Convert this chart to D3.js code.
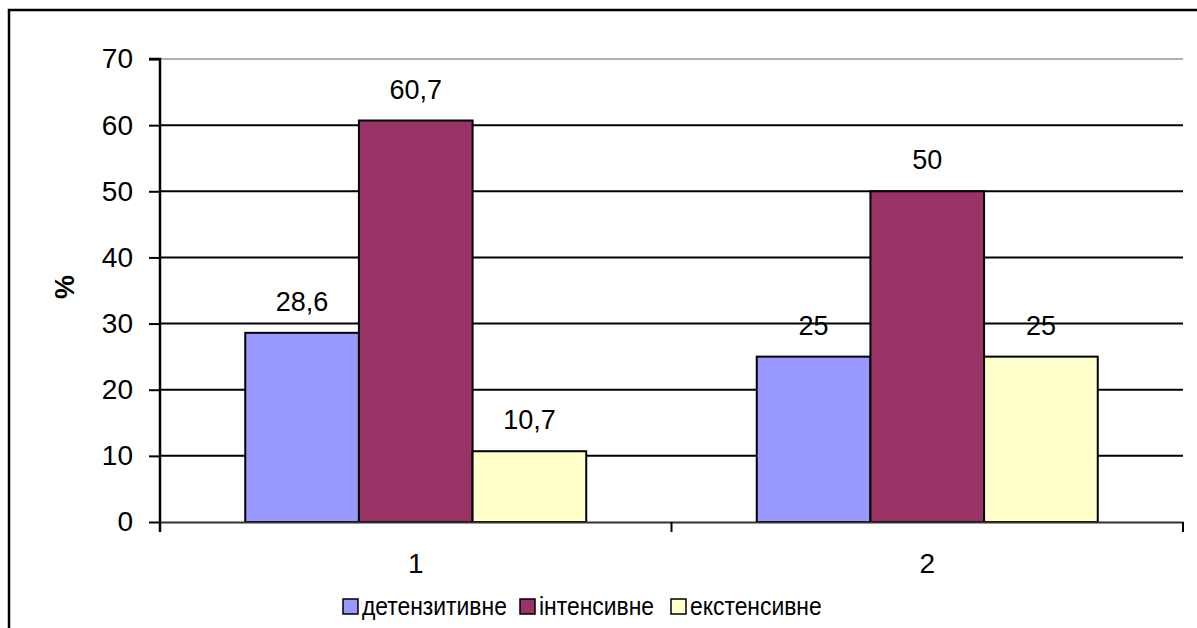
<!DOCTYPE html>
<html>
<head>
  <meta charset="utf-8">
<style type="text/css">
  body { margin: 0; background: #fff; }
  text { font-family: "Liberation Sans", Arial, sans-serif; }
</style>
</head>
<script src="https://cdn.jsdelivr.net/npm/d3@7"></script>
<body>

<script>
  var categories = ["1", "2"];
  var series = ["детензитивне", "інтенсивне", "екстенсивне"];
  var labels = [["28,6", "60,7", "10,7"], ["25", "50", "25"]];
  var values = [[28.6, 60.7, 10.7], [25, 50, 25]];
  var yTicks = [0, 10, 20, 30, 40, 50, 60, 70];
  var colors = ["#9999ff", "#993366", "#ffffcc"];

  var w = 1197, h = 628;
  var pLeft = 160, pRight = 1183, pTop = 59, pBottom = 522;

  var svg = d3.select("body").append("svg")
              .attr("width", w)
              .attr("height", h);

  // outer chart frame (cropped on right/bottom)
  svg.append("rect")
     .attr("x", 9).attr("y", 10)
     .attr("width", 1200).attr("height", 640)
     .attr("fill", "#fff").attr("stroke", "#000").attr("stroke-width", 2.5);

  var x = d3.scaleBand().domain(categories).range([pLeft, pRight]);
  var y = d3.scaleLinear().domain([0, 70]).range([pBottom, pTop]);

  var gap = x.bandwidth() * 0.75 / 4.5;
  var x1 = d3.scaleBand().domain(d3.range(series.length))
             .range([gap, x.bandwidth() - gap]);

  // gridlines
  svg.selectAll(".grid").data(yTicks.filter(function (d) { return d > 0; }))
     .enter().append("line")
     .attr("x1", pLeft).attr("x2", pRight)
     .attr("y1", function (d) { return y(d); })
     .attr("y2", function (d) { return y(d); })
     .attr("stroke", function (d) { return d == 70 ? "#b0b0b0" : "#000"; })
     .attr("stroke-width", 2);

  // bars
  var groups = svg.selectAll(".grp").data(categories).enter().append("g")
     .attr("transform", function (d) { return "translate(" + x(d) + ",0)"; });

  function rows(d, i) {
    return values[i].map(function (v, j) { return { v: v, j: j, lab: labels[i][j] }; });
  }

  groups.selectAll("rect")
     .data(rows)
     .enter().append("rect")
     .attr("x", function (d) { return x1(d.j); })
     .attr("width", x1.bandwidth())
     .attr("y", function (d) { return y(d.v); })
     .attr("height", function (d) { return pBottom - y(d.v); })
     .attr("fill", function (d) { return colors[d.j]; })
     .attr("stroke", "#000").attr("stroke-width", 2);

  groups.selectAll(".lab")
     .data(rows)
     .enter().append("text")
     .attr("x", function (d) { return x1(d.j) + x1.bandwidth() / 2; })
     .attr("y", function (d) { return y(d.v) - 22; })
     .attr("text-anchor", "middle")
     .attr("font-size", 27)
     .text(function (d) { return d.lab; });

  // y axis
  var yAxis = svg.append("g").attr("transform", "translate(" + pLeft + ",0)")
     .call(d3.axisLeft(y).tickValues(yTicks).tickSize(11).tickPadding(16));
  yAxis.select(".domain").attr("stroke-width", 2.5).attr("d", "M0," + (pBottom + 10) + "V" + pTop + "H-11");
  yAxis.selectAll(".tick line").attr("stroke-width", 2);
  yAxis.selectAll(".tick text").attr("font-size", 28).attr("fill", "#000")
       .attr("font-family", "Liberation Sans, Arial, sans-serif");

  // x axis
  var xAxis = svg.append("g").attr("transform", "translate(0," + pBottom + ")")
     .call(d3.axisBottom(x).tickSize(0).tickPadding(31));
  xAxis.select(".domain").attr("stroke-width", 2).attr("stroke", "#333");
  xAxis.selectAll(".tick text").attr("font-size", 28).attr("fill", "#000")
       .attr("font-family", "Liberation Sans, Arial, sans-serif");
  svg.selectAll(".xtick").data([pLeft, (pLeft + pRight) / 2, pRight]).enter().append("line")
     .attr("x1", function (d) { return d; }).attr("x2", function (d) { return d; })
     .attr("y1", pBottom).attr("y2", pBottom + 10)
     .attr("stroke", "#000").attr("stroke-width", 2);

  // y title
  svg.append("text")
     .attr("transform", "translate(74,287) rotate(-90)")
     .attr("text-anchor", "middle")
     .attr("font-size", 27).attr("font-weight", "bold")
     .text("%");

  // legend
  var legX = [343, 520, 671];
  var leg = svg.selectAll(".leg").data(series).enter().append("g")
     .attr("transform", function (d, i) { return "translate(" + legX[i] + ",599)"; });
  leg.append("rect").attr("width", 15).attr("height", 15)
     .attr("fill", function (d, i) { return colors[i]; })
     .attr("stroke", "#000").attr("stroke-width", 1.5);
  leg.append("text")
     .attr("transform", "translate(19,16) scale(0.915,1)")
     .attr("font-size", 25)
     .text(function (d) { return d; });
</script>

</body>
</html>
